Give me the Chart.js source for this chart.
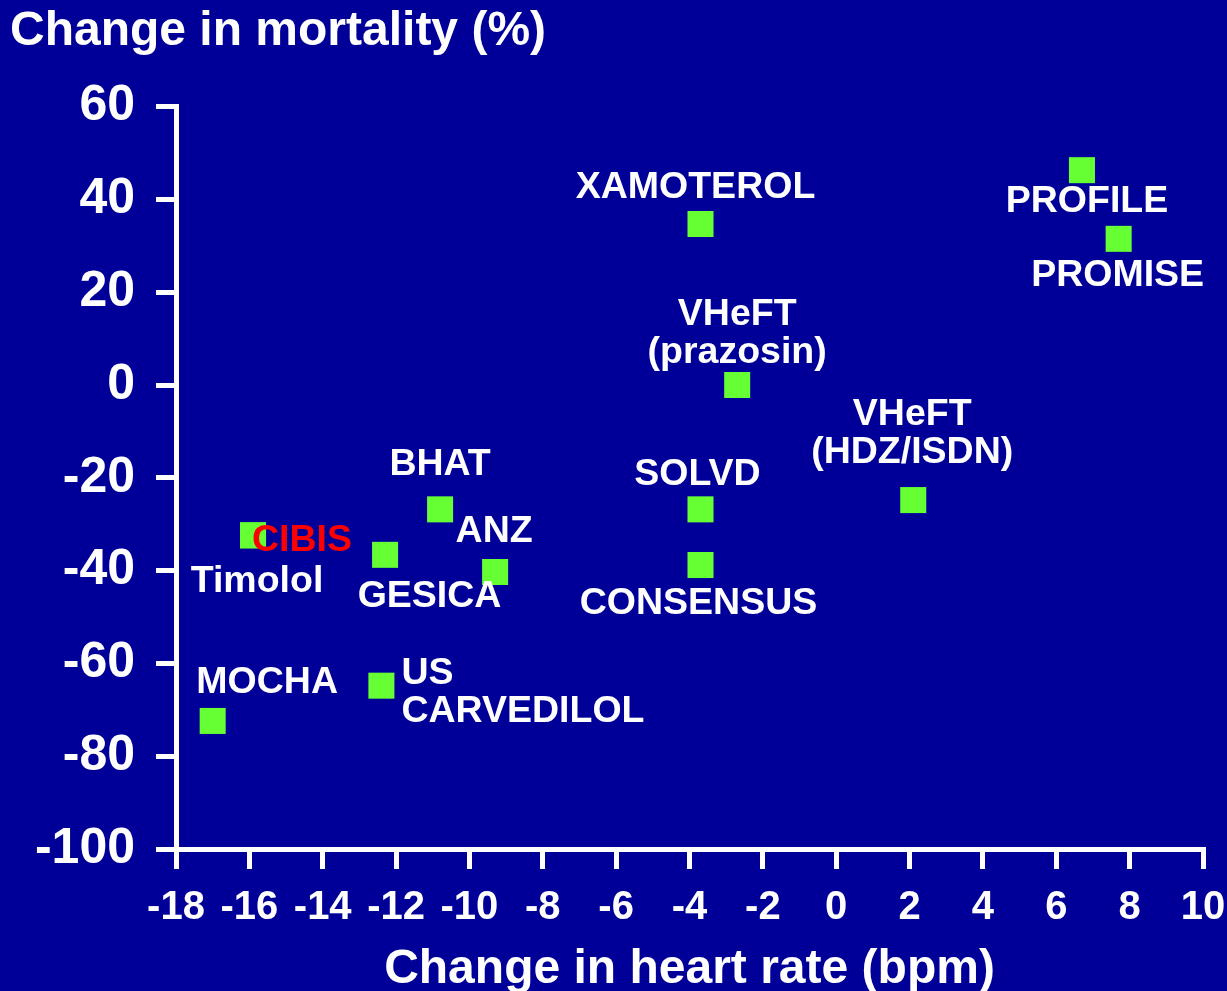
<!DOCTYPE html>
<html>
<head>
<meta charset="utf-8">
<title>Heart rate vs mortality</title>
<script src="https://cdn.jsdelivr.net/npm/chart.js"></script>
<style>
  html, body { margin: 0; padding: 0; background: #000099; }
  #wrap { width: 1227px; height: 991px; }
</style>
</head>
<body>
<div id="wrap"><canvas id="hrChart" width="1227" height="991"></canvas></div>
<script>
// Dữ liệu
const trials = ['PROFILE', 'PROMISE', 'XAMOTEROL', 'VHeFT\n(prazosin)', 'VHeFT\n(HDZ/ISDN)',
  'SOLVD', 'CONSENSUS', 'BHAT', 'ANZ', 'GESICA', 'CIBIS', 'Timolol', 'MOCHA', 'US\nCARVEDILOL'];
const heartRateChange = [6.7, 7.7, -3.7, -2.7, 2.1, -3.7, -3.7, -10.8, -9.3, -12.3, -15.9, -15.9, -17.0, -12.4];
const mortalityChange = [46.3, 31.5, 34.7, 0, -24.8, -26.8, -38.8, -26.8, -40.3, -36.6, -32.4, -32.4, -72.4, -64.8];
const xTicks = [-18, -16, -14, -12, -10, -8, -6, -4, -2, 0, 2, 4, 6, 8, 10];
const yTicks = [-100, -80, -60, -40, -20, 0, 20, 40, 60];

// Vị trí nhãn so với điểm (pixel): [dx, dy đến baseline dòng đầu, căn lề]
const labelOffsets = [
  [5, 42, 'center'], [-1, 47, 'center'], [-5, -25.5, 'center'], [0, -60.5, 'center'],
  [-1, -75.5, 'center'], [-3, -24.5, 'center'], [-2, 48.5, 'center'], [0, -34.5, 'center'],
  [-1, -29.5, 'center'], [44.5, 52, 'center'], [49, 16, 'center'], [4, 56.5, 'center'],
  [54.5, -27.5, 'center'], [20, -1.5, 'left']
];

const FONT = "'Liberation Sans', Arial, Helvetica, sans-serif";
const WHITE = '#ffffff';

const points = heartRateChange.map((x, i) => ({ x: x, y: mortalityChange[i] }));

// Plugin vẽ tên thử nghiệm cạnh từng điểm
const trialLabels = {
  id: 'trialLabels',
  afterDatasetsDraw(chart) {
    const ctx = chart.ctx;
    const meta = chart.getDatasetMeta(0);
    ctx.save();
    ctx.font = 'bold 37.5px ' + FONT;
    ctx.textBaseline = 'alphabetic';
    meta.data.forEach((pt, i) => {
      const off = labelOffsets[i];
      ctx.fillStyle = trials[i] === 'CIBIS' ? '#ff0000' : WHITE;
      ctx.textAlign = off[2];
      trials[i].split('\n').forEach((line, j) => {
        ctx.fillText(line, pt.x + off[0], pt.y + off[1] + j * 38);
      });
    });
    ctx.restore();
  }
};

const axisStyle = {
  grid: { drawOnChartArea: false, drawTicks: true, tickLength: 20, tickWidth: 5, tickColor: WHITE, color: WHITE, lineWidth: 5 },
  border: { display: true, color: WHITE, width: 5 }
};

new Chart(document.getElementById('hrChart'), {
  type: 'scatter',
  data: {
    datasets: [{
      label: 'Trials',
      data: points,
      pointStyle: 'rect',
      pointRadius: 18.4,
      pointHoverRadius: 18.4,
      backgroundColor: '#66ff33',
      borderWidth: 0,
      clip: false
    }]
  },
  options: {
    responsive: false,
    animation: false,
    devicePixelRatio: 1,
    layout: { padding: { left: 10, right: 24, top: 0, bottom: 0 } },
    scales: {
      x: {
        type: 'linear',
        min: -18,
        max: 10,
        afterBuildTicks: (scale) => { scale.ticks = xTicks.map(v => ({ value: v })); },
        afterFit: (scale) => {
          scale.height = 142;
          scale.paddingLeft = 0;
          scale.paddingRight = 0;
        },
        ticks: { color: WHITE, padding: 15, font: { family: FONT, size: 40, weight: 'bold' } },
        title: {
          display: true,
          text: 'Change in heart rate (bpm)',
          color: WHITE,
          padding: 0,
          font: { family: FONT, size: 48, weight: 'bold', lineHeight: 0.9 }
        },
        grid: axisStyle.grid,
        border: axisStyle.border
      },
      y: {
        type: 'linear',
        min: -100,
        max: 60,
        afterBuildTicks: (scale) => { scale.ticks = yTicks.map(v => ({ value: v })); },
        afterFit: (scale) => { scale.width = 166; },
        ticks: { color: WHITE, padding: 21, font: { family: FONT, size: 50, weight: 'bold' } },
        grid: axisStyle.grid,
        border: axisStyle.border
      }
    },
    plugins: {
      legend: { display: false },
      tooltip: { enabled: false },
      title: {
        display: true,
        text: 'Change in mortality (%)',
        align: 'start',
        color: WHITE,
        padding: { top: 3, bottom: 46 },
        font: { family: FONT, size: 48, weight: 'bold', lineHeight: 1.2 }
      }
    }
  },
  plugins: [trialLabels]
});
</script>
</body>
</html>
